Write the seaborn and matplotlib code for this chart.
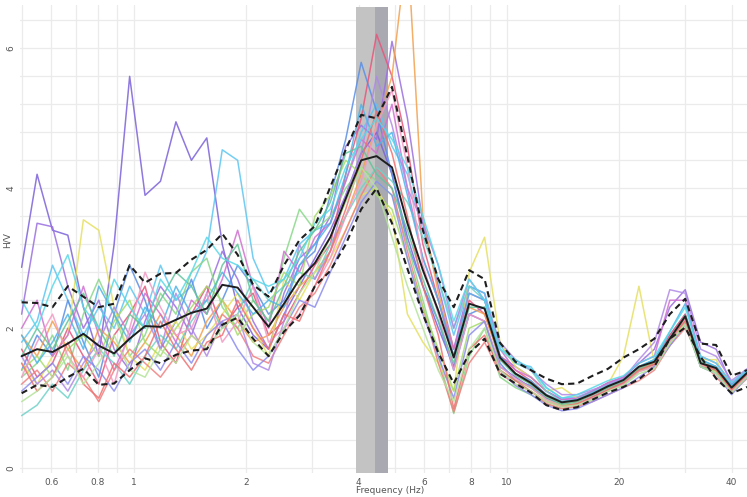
import matplotlib
matplotlib.use("Agg")
import matplotlib.pyplot as plt
import numpy as np
import pandas as pd
import seaborn as sns

sns.set_theme(style="white")
plt.rcParams["font.family"] = ["DejaVu Sans"]

# Frequency sampling of the H/V curves (Hz)
freq = [0.500, 0.550, 0.605, 0.665, 0.732, 0.805, 0.885, 0.974,
        1.071, 1.178, 1.296, 1.426, 1.568, 1.725, 1.897, 2.087,
        2.296, 2.525, 2.778, 3.055, 3.361, 3.696, 4.066, 4.472,
        4.918, 5.410, 5.951, 6.546, 7.200, 7.920, 8.710, 9.582,
        10.54, 11.59, 12.75, 14.03, 15.42, 16.97, 18.66, 20.53,
        22.58, 24.84, 27.32, 30.05, 33.05, 36.36, 40.00, 44.00]

# Average H/V curve and the +/- one standard deviation curves
hv_mean = [1.60, 1.70, 1.66, 1.78, 1.92, 1.75, 1.64, 1.85,
           2.03, 2.02, 2.12, 2.22, 2.28, 2.62, 2.58, 2.30,
           2.02, 2.35, 2.70, 2.93, 3.30, 3.85, 4.40, 4.46,
           4.30, 3.50, 2.83, 2.25, 1.58, 2.35, 2.28, 1.58,
           1.35, 1.22, 1.04, 0.94, 0.97, 1.06, 1.17, 1.26,
           1.45, 1.52, 1.85, 2.17, 1.50, 1.43, 1.15, 1.36]
hv_upper = [2.37, 2.36, 2.30, 2.60, 2.45, 2.30, 2.35, 2.90,
            2.65, 2.78, 2.79, 2.98, 3.12, 3.35, 3.05, 2.62,
            2.45, 2.90, 3.26, 3.46, 4.02, 4.55, 5.05, 5.00,
            5.45, 4.45, 3.40, 2.70, 2.30, 2.83, 2.70, 1.79,
            1.52, 1.40, 1.28, 1.20, 1.21, 1.32, 1.42, 1.58,
            1.70, 1.85, 2.20, 2.42, 1.78, 1.76, 1.32, 1.40]
hv_lower = [1.07, 1.19, 1.16, 1.30, 1.42, 1.19, 1.21, 1.40,
            1.57, 1.50, 1.62, 1.68, 1.70, 2.05, 2.15, 1.85,
            1.60, 1.95, 2.18, 2.60, 2.82, 3.20, 3.70, 4.00,
            3.50, 2.85, 2.20, 1.65, 1.21, 1.64, 1.85, 1.35,
            1.21, 1.08, 0.90, 0.83, 0.87, 0.98, 1.08, 1.16,
            1.27, 1.45, 1.85, 2.01, 1.59, 1.28, 1.07, 1.16]

# H/V curves of the individual time windows
win_01 = [2.87, 4.20, 3.40, 3.33, 2.30, 1.60, 3.20, 5.60,
          3.90, 4.10, 4.95, 4.40, 4.72, 3.20, 2.30, 1.90,
          1.70, 2.20, 2.60, 3.00, 3.40, 3.90, 4.50, 4.80,
          4.20, 3.30, 2.60, 2.00, 1.45, 2.20, 2.10, 1.45,
          1.30, 1.15, 1.00, 0.92, 0.95, 1.05, 1.15, 1.22,
          1.40, 1.50, 1.80, 2.10, 1.45, 1.40, 1.10, 1.30]
win_02 = [2.20, 3.50, 3.45, 2.60, 2.00, 2.40, 1.70, 1.40,
          2.10, 2.60, 2.30, 1.90, 2.50, 3.10, 2.70, 2.10,
          1.70, 2.50, 3.00, 3.20, 3.60, 4.60, 4.90, 4.70,
          6.10, 5.00, 3.50, 2.60, 1.70, 2.60, 2.50, 1.60,
          1.45, 1.30, 1.10, 0.98, 1.00, 1.10, 1.22, 1.30,
          1.50, 1.70, 2.30, 2.55, 1.80, 1.70, 1.20, 1.40]
win_03 = [1.80, 2.10, 2.90, 2.40, 1.90, 2.30, 2.00, 2.60,
          2.20, 2.90, 2.40, 2.60, 3.10, 4.55, 4.40, 3.00,
          2.50, 2.70, 3.20, 3.40, 3.50, 4.10, 4.80, 5.20,
          4.60, 4.20, 3.40, 2.70, 1.90, 2.60, 2.50, 1.75,
          1.50, 1.45, 1.15, 1.00, 1.02, 1.10, 1.20, 1.28,
          1.45, 1.55, 1.90, 2.20, 1.55, 1.45, 1.18, 1.38]
win_04 = [1.40, 1.90, 1.60, 2.40, 1.80, 1.30, 2.20, 2.90,
          2.40, 1.70, 2.10, 2.70, 2.00, 2.40, 2.90, 2.60,
          2.20, 2.40, 2.90, 3.10, 3.90, 4.70, 5.80, 5.10,
          4.20, 3.20, 2.60, 2.10, 1.40, 2.20, 2.30, 1.50,
          1.25, 1.18, 1.00, 0.90, 0.92, 1.02, 1.12, 1.22,
          1.42, 1.48, 1.80, 2.15, 1.50, 1.40, 1.12, 1.32]
win_05 = [1.70, 1.30, 1.50, 2.00, 1.60, 1.20, 1.90, 2.20,
          2.60, 1.80, 1.50, 2.20, 2.60, 2.00, 2.30, 2.50,
          1.90, 2.10, 2.50, 2.90, 3.20, 4.20, 5.00, 6.20,
          5.60, 4.60, 3.20, 2.40, 1.60, 2.40, 2.20, 1.60,
          1.40, 1.25, 1.05, 0.95, 0.98, 1.08, 1.18, 1.25,
          1.42, 1.50, 1.90, 2.20, 1.50, 1.45, 1.15, 1.36]
win_06 = [1.90, 1.60, 2.10, 1.70, 1.40, 2.00, 1.80, 1.50,
          1.80, 2.20, 1.90, 1.60, 2.10, 2.40, 2.10, 1.80,
          1.90, 2.30, 2.60, 2.80, 3.10, 3.60, 4.20, 4.90,
          5.60, 7.50, 3.60, 2.50, 1.70, 2.30, 2.20, 1.55,
          1.35, 1.20, 1.02, 0.93, 0.95, 1.05, 1.15, 1.24,
          1.42, 1.50, 1.85, 2.15, 1.48, 1.40, 1.12, 1.34]
win_07 = [1.30, 1.50, 1.90, 1.40, 2.20, 2.70, 2.20, 1.60,
          1.90, 2.50, 2.20, 2.80, 3.00, 2.30, 2.00, 2.40,
          2.10, 3.00, 3.70, 3.40, 3.60, 4.00, 4.30, 4.10,
          3.90, 3.20, 2.40, 1.60, 0.78, 1.60, 2.00, 1.30,
          1.15, 1.05, 0.92, 0.85, 0.88, 0.98, 1.10, 1.18,
          1.38, 1.45, 1.75, 2.05, 1.45, 1.35, 1.10, 1.30]
win_08 = [1.50, 1.20, 1.60, 1.90, 3.55, 3.40, 2.30, 1.60,
          1.40, 1.80, 2.10, 1.70, 1.90, 2.20, 2.50, 2.00,
          1.60, 2.70, 2.40, 2.80, 3.00, 3.40, 3.90, 4.00,
          3.60, 2.20, 1.80, 1.50, 1.10, 2.80, 3.30, 1.80,
          1.45, 1.30, 1.10, 1.15, 1.00, 1.08, 1.20, 1.60,
          2.60, 1.50, 1.75, 2.10, 1.55, 1.55, 1.15, 1.30]
win_09 = [2.00, 2.40, 1.60, 1.90, 2.60, 1.90, 1.40, 1.90,
          2.50, 2.20, 1.80, 2.40, 2.20, 2.70, 3.40, 2.60,
          2.00, 3.10, 2.80, 3.30, 3.50, 4.10, 4.70, 4.50,
          5.20, 4.00, 3.00, 2.40, 1.70, 2.50, 2.40, 1.70,
          1.40, 1.30, 1.10, 0.98, 1.00, 1.10, 1.22, 1.30,
          1.50, 1.60, 2.40, 2.40, 1.60, 1.50, 1.22, 1.40]
win_10 = [1.20, 1.40, 1.10, 1.50, 1.30, 0.95, 1.40, 1.70,
          1.50, 1.30, 1.60, 1.90, 1.70, 2.20, 2.00, 1.60,
          1.50, 1.90, 2.30, 2.50, 2.90, 3.40, 3.90, 4.30,
          4.00, 3.10, 2.30, 1.50, 0.80, 1.50, 1.80, 1.35,
          1.20, 1.10, 0.92, 0.85, 0.88, 0.95, 1.05, 1.15,
          1.25, 1.40, 1.75, 2.00, 1.55, 1.30, 1.08, 1.28]
win_11 = [0.75, 0.90, 1.20, 1.00, 1.40, 1.70, 1.50, 1.20,
          1.60, 1.90, 1.70, 2.10, 2.40, 2.00, 2.20, 2.70,
          2.40, 2.60, 2.80, 2.70, 3.20, 3.60, 4.00, 4.30,
          4.10, 3.80, 3.30, 2.70, 2.00, 2.60, 2.40, 1.70,
          1.50, 1.40, 1.10, 0.95, 0.98, 1.08, 1.18, 1.25,
          1.45, 1.55, 1.85, 2.10, 1.55, 1.45, 1.15, 1.35]
win_12 = [1.60, 1.20, 1.40, 1.10, 1.50, 1.80, 2.30, 1.90,
          2.20, 1.70, 2.50, 2.00, 1.60, 2.10, 2.20, 1.50,
          1.40, 2.10, 3.20, 2.70, 3.10, 3.90, 4.50, 5.60,
          4.90, 4.00, 3.50, 2.90, 2.00, 2.70, 2.40, 1.80,
          1.55, 1.40, 1.20, 1.05, 1.05, 1.12, 1.20, 1.28,
          1.55, 1.80, 2.55, 2.50, 1.70, 1.60, 1.25, 1.42]
win_13 = [1.40, 1.60, 1.30, 1.70, 1.90, 1.60, 2.10, 2.40,
          1.80, 1.60, 2.00, 2.30, 2.60, 2.40, 1.90, 2.20,
          2.30, 2.80, 2.60, 3.60, 3.90, 4.40, 4.20, 3.90,
          3.70, 3.00, 2.30, 1.70, 1.10, 2.00, 2.10, 1.40,
          1.25, 1.15, 0.98, 0.90, 0.92, 1.00, 1.12, 1.20,
          1.40, 1.45, 1.80, 2.10, 1.45, 1.38, 1.12, 1.34]
win_14 = [1.90, 1.50, 1.80, 2.20, 1.70, 2.60, 2.20, 1.80,
          2.30, 2.00, 2.60, 2.20, 2.40, 2.80, 2.50, 2.20,
          2.40, 2.30, 2.90, 3.20, 3.50, 4.20, 5.20, 4.60,
          4.80, 3.90, 3.00, 2.40, 1.60, 2.50, 2.40, 1.60,
          1.35, 1.25, 1.05, 0.95, 0.98, 1.08, 1.18, 1.25,
          1.45, 1.55, 1.95, 2.35, 1.55, 1.45, 1.18, 1.38]
win_15 = [1.30, 1.80, 2.20, 1.60, 1.30, 1.70, 1.20, 2.00,
          2.80, 2.30, 1.90, 2.00, 2.50, 1.80, 2.10, 2.60,
          1.80, 2.00, 2.20, 2.60, 3.00, 3.60, 4.10, 4.90,
          5.40, 4.30, 2.90, 2.20, 1.40, 2.20, 2.10, 1.45,
          1.28, 1.15, 0.98, 0.88, 0.90, 1.00, 1.10, 1.20,
          1.38, 1.45, 1.80, 2.12, 1.48, 1.42, 1.10, 1.32]
win_16 = [1.60, 2.00, 1.70, 2.10, 2.50, 2.00, 1.60, 2.20,
          2.00, 2.40, 2.80, 2.60, 2.20, 2.90, 3.20, 2.40,
          2.10, 2.60, 3.10, 3.40, 3.80, 4.50, 4.60, 4.20,
          4.00, 3.40, 2.70, 2.10, 1.50, 2.30, 2.30, 1.55,
          1.32, 1.20, 1.02, 0.92, 0.95, 1.05, 1.15, 1.24,
          1.42, 1.52, 1.85, 2.18, 1.52, 1.42, 1.15, 1.36]
win_17 = [1.10, 1.30, 1.50, 1.20, 1.60, 1.40, 1.10, 1.50,
          1.70, 1.40, 1.80, 1.50, 1.90, 2.10, 1.70, 1.40,
          1.60, 2.00, 2.40, 2.30, 2.80, 3.30, 3.80, 4.10,
          3.90, 3.00, 2.20, 1.60, 1.00, 1.90, 2.10, 1.40,
          1.18, 1.05, 0.90, 0.82, 0.85, 0.95, 1.05, 1.15,
          1.30, 1.45, 1.75, 2.05, 1.45, 1.35, 1.05, 1.30]
win_18 = [1.50, 1.10, 1.30, 1.80, 1.20, 1.00, 1.50, 1.30,
          1.60, 2.10, 1.70, 1.40, 1.80, 1.90, 2.40, 2.00,
          1.70, 2.20, 2.10, 2.60, 3.10, 3.70, 4.40, 5.10,
          4.50, 3.60, 2.60, 1.90, 0.85, 1.70, 1.90, 1.40,
          1.25, 1.10, 0.95, 0.88, 0.92, 1.02, 1.12, 1.22,
          1.40, 1.48, 1.85, 2.10, 1.50, 1.40, 1.12, 1.34]
win_19 = [2.40, 2.00, 2.60, 3.05, 2.30, 2.00, 2.70, 2.30,
          2.00, 2.70, 2.40, 2.80, 3.30, 3.00, 2.90, 2.70,
          2.60, 2.70, 3.00, 3.50, 3.70, 4.30, 4.70, 5.00,
          4.70, 4.30, 3.60, 2.90, 2.10, 2.70, 2.40, 1.70,
          1.55, 1.42, 1.15, 1.00, 1.05, 1.15, 1.25, 1.32,
          1.50, 1.60, 1.95, 2.30, 1.60, 1.50, 1.22, 1.40]
win_20 = [0.95, 1.10, 1.30, 1.60, 1.20, 1.50, 1.90, 1.40,
          1.30, 1.70, 1.50, 1.90, 1.70, 2.00, 2.20, 1.80,
          1.60, 2.00, 2.50, 2.80, 3.30, 3.80, 4.30, 4.00,
          3.30, 2.60, 2.00, 1.40, 0.95, 1.70, 2.00, 1.40,
          1.20, 1.10, 0.95, 0.88, 0.90, 0.98, 1.10, 1.18,
          1.35, 1.42, 1.78, 2.05, 1.45, 1.35, 1.08, 1.30]

windows = [win_01, win_02, win_03, win_04, win_05, win_06, win_07,
           win_08, win_09, win_10, win_11, win_12, win_13, win_14,
           win_15, win_16, win_17, win_18, win_19, win_20]
win_colors = ["#7b61d9", "#9a6fe0", "#5cc6f2", "#5a8ee6", "#e8557a",
              "#f2a04e", "#88d888", "#e6e060", "#d070d0", "#f08080",
              "#6fd2c8", "#b08ae6", "#a6dc6a", "#4fb4e8", "#f29ac4",
              "#62c49a", "#8c8cf0", "#f07070", "#58d8e8", "#b4e39a"]

# Peak frequency f0 and its spread
f0_low, f0, f0_high = 3.94, 4.43, 4.80

# Long-form table of the window curves
rows = []
for k, curve in enumerate(windows):
    for f, v in zip(freq, curve):
        rows.append({"window": f"w{k + 1:02d}", "freq": f, "hv": v})
df_win = pd.DataFrame(rows)
df_stat = pd.DataFrame({"freq": freq, "mean": hv_mean,
                        "upper": hv_upper, "lower": hv_lower})

W, H = 747, 497
fig = plt.figure(figsize=(W / 100, H / 100), dpi=100)
ax = fig.add_axes([20 / W, 24 / H, 727 / W, 468 / H])
ax.set_xscale("log")
ax.set_xlim(0.495, 44.0)
ax.set_ylim(-0.07, 6.62)

# f0 band
ax.axvspan(f0_low, f0, ymin=0, ymax=0.996, color="#c3c3c3", lw=0, zorder=1)
ax.axvspan(f0, f0_high, ymin=0, ymax=0.996, color="#a9a9b2", lw=0, zorder=1)

sns.lineplot(data=df_win, x="freq", y="hv", hue="window",
             palette=win_colors, estimator=None, legend=False,
             lw=1.1, alpha=0.85, ax=ax, zorder=2)
sns.lineplot(data=df_stat, x="freq", y="upper", color="#1e1e1e", lw=1.5,
             linestyle=(0, (3, 2)), ax=ax, zorder=4)
sns.lineplot(data=df_stat, x="freq", y="lower", color="#1e1e1e", lw=1.5,
             linestyle=(0, (3, 2)), ax=ax, zorder=4)
sns.lineplot(data=df_stat, x="freq", y="mean", color="#1e1e1e", lw=1.4,
             ax=ax, zorder=5)

# Ticks and grid
x_major = [0.6, 0.8, 1, 2, 4, 6, 8, 10, 20, 40]
x_minor = [0.5, 0.7, 0.9, 3, 5, 7, 9, 30]
ax.set_xticks(x_major)
ax.set_xticklabels(["0.6", "0.8", "1", "2", "4", "6", "8", "10", "20", "40"])
ax.set_xticks(x_minor, minor=True)
ax.set_xticklabels([], minor=True)
ax.set_yticks([0, 2, 4, 6])
ax.set_yticklabels(["0", "2", "4", "6"], rotation=90, va="center")
ax.set_yticks([0.4, 0.8, 1.2, 1.6, 2.4, 2.8, 3.2, 3.6, 4.4, 4.8, 5.2,
               5.6, 6.4], minor=True)
ax.grid(which="both", color="#ebebeb", lw=0.9, zorder=0)
ax.set_axisbelow(True)
ax.tick_params(which="both", length=2, width=0.6, color="#999999",
               labelsize=6.5, labelcolor="#555555", pad=1.5)
for s in ax.spines.values():
    s.set_visible(False)

ax.set_xlabel("Frequency (Hz)", fontsize=6.5, color="#555555")
ax.set_ylabel("H/V", fontsize=6.5, color="#555555")
ax.xaxis.set_label_coords(0.509, -0.027)
ax.yaxis.set_label_coords(-0.011, 0.498)

fig.savefig("out.png", dpi=100, facecolor="white")
